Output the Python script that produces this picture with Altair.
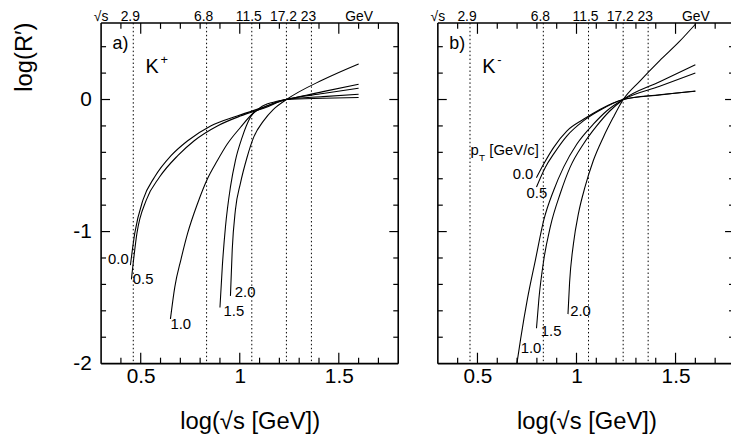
import math
import altair as alt
import pandas as pd

FONT = "Liberation Sans"

# ---------------- data ----------------
energies = [2.9, 6.8, 11.5, 17.2, 23]
energy_text = ["2.9", "6.8", "11.5", "17.2", "23"]
x_major = [0.5, 1.0, 1.5]
x_minor = [0.4, 0.6, 0.7, 0.8, 0.9, 1.1, 1.2, 1.3, 1.4, 1.6, 1.7]
y_major = [-1, 0]
y_minor = [-1.8, -1.6, -1.4, -1.2, -0.8, -0.6, -0.4, -0.2, 0.2, 0.4]
y_label_values = [-2, -1, 0]
pt_values = ["0.0", "0.5", "1.0", "1.5", "2.0"]

# K+ curves
kp_00_x = [0.448, 0.470, 0.511, 0.570, 0.653, 0.737, 0.853, 0.987, 1.120, 1.236, 1.420, 1.600]
kp_00_y = [-1.254, -1.012, -0.762, -0.587, -0.425, -0.312, -0.200, -0.125, -0.058, 0.000, 0.009, 0.015]
kp_05_x = [0.453, 0.481, 0.528, 0.595, 0.687, 0.770, 0.887, 1.003, 1.128, 1.236, 1.420, 1.600]
kp_05_y = [-1.362, -1.012, -0.762, -0.587, -0.425, -0.312, -0.200, -0.125, -0.062, 0.000, 0.022, 0.040]
kp_10_x = [0.650, 0.672, 0.703, 0.737, 0.787, 0.837, 0.887, 0.937, 1.003, 1.070, 1.137, 1.236, 1.420, 1.600]
kp_10_y = [-1.662, -1.420, -1.212, -1.012, -0.787, -0.600, -0.462, -0.337, -0.212, -0.100, -0.050, 0.000, 0.045, 0.085]
kp_15_x = [0.900, 0.912, 0.928, 0.953, 0.978, 1.012, 1.053, 1.103, 1.170, 1.236, 1.420, 1.600]
kp_15_y = [-1.575, -1.262, -0.962, -0.662, -0.462, -0.287, -0.137, -0.062, -0.020, 0.000, 0.060, 0.115]
kp_20_x = [0.953, 0.962, 0.978, 1.003, 1.037, 1.070, 1.120, 1.170, 1.236, 1.420, 1.600]
kp_20_y = [-1.487, -1.137, -0.837, -0.637, -0.437, -0.287, -0.162, -0.075, 0.000, 0.150, 0.270]

# K- curves
km_00_x = [0.798, 0.835, 0.885, 0.952, 1.035, 1.118, 1.236, 1.420, 1.600]
km_00_y = [-0.592, -0.487, -0.362, -0.237, -0.150, -0.075, 0.000, 0.036, 0.065]
km_05_x = [0.798, 0.843, 0.885, 0.952, 1.035, 1.118, 1.236, 1.420, 1.600]
km_05_y = [-0.662, -0.512, -0.412, -0.275, -0.162, -0.082, 0.000, 0.034, 0.062]
km_10_x = [0.699, 0.718, 0.752, 0.793, 0.835, 0.885, 0.935, 1.002, 1.085, 1.152, 1.236, 1.420, 1.600]
km_10_y = [-2.000, -1.812, -1.512, -1.212, -0.912, -0.687, -0.512, -0.337, -0.187, -0.087, 0.000, 0.100, 0.200]
km_15_x = [0.798, 0.810, 0.835, 0.868, 0.918, 0.968, 1.035, 1.102, 1.168, 1.236, 1.420, 1.600]
km_15_y = [-1.732, -1.512, -1.212, -0.962, -0.712, -0.512, -0.337, -0.200, -0.087, 0.000, 0.135, 0.263]
km_20_x = [0.957, 0.965, 0.985, 1.010, 1.043, 1.085, 1.135, 1.185, 1.236, 1.320, 1.420, 1.520, 1.600]
km_20_y = [-1.625, -1.387, -1.087, -0.862, -0.662, -0.462, -0.287, -0.137, 0.000, 0.140, 0.295, 0.440, 0.570]

# curve label anchors (data units)
kp_label_x = [0.387, 0.512, 0.702, 0.970, 1.027]
kp_label_y = [-1.205, -1.362, -1.700, -1.600, -1.458]
km_label_x = [0.730, 0.800, 0.770, 0.872, 1.020]
km_label_y = [-0.562, -0.710, -1.880, -1.750, -1.602]

# ---------------- helpers ----------------
H = 344
YS = alt.Scale(domain=[-2.0, 0.58], nice=False, zero=False)


def curves_df(xs_list, ys_list):
    rows = []
    for pt, xs, ys in zip(pt_values, xs_list, ys_list):
        for i, (x, y) in enumerate(zip(xs, ys)):
            rows.append({"pt": pt, "x": x, "y": y, "i": i})
    return pd.DataFrame(rows)


def make_panel(cdf, lab_x, lab_y, tag, ksup, first, W, xmax):
    XS = alt.Scale(domain=[0.3, xmax], nice=False, zero=False)
    x_axis = alt.Axis(values=x_major, format=".1~f", title="log(√s [GeV])", ticks=False, domain=False,
                      grid=False, labelPadding=2, labelFontSize=21, labelColor="black", labelFont=FONT,
                      labelFlush=False, titleFontSize=24, titleFont=FONT, titleFontWeight="normal",
                      titleColor="black", titleBaseline="alphabetic", titleY=66, titleX=150,
                      titleAlign="center")
    if first:
        y_axis = alt.Axis(values=y_label_values, title="log(R′)", ticks=False, domain=False, grid=False,
                          labelPadding=10, labelFontSize=21, labelColor="black", labelFont=FONT,
                          labelExpr="replace(datum.label, '−', '-')",
                          titleFontSize=24, titleFont=FONT, titleFontWeight="normal", titleColor="black",
                          titleAngle=270, titleX=-70, titleY=34, titleAlign="center",
                          titleBaseline="alphabetic")
    else:
        y_axis = None

    def X(f):
        return alt.X(f"{f}:Q", scale=XS, axis=x_axis)

    def Y(f):
        return alt.Y(f"{f}:Q", scale=YS, axis=y_axis)

    edf = pd.DataFrame({"e": [math.log10(e) for e in energies], "t": energy_text})
    xmaj = pd.DataFrame({"v": x_major})
    xmin = pd.DataFrame({"v": x_minor})
    ymaj = pd.DataFrame({"v": y_major})
    ymin = pd.DataFrame({"v": y_minor})

    layers = []
    layers.append(alt.Chart(edf).mark_rule(color="black", strokeWidth=1, strokeDash=[1.5, 2.5])
                  .encode(x=X("e")))
    layers.append(alt.Chart(cdf).mark_line(color="black", strokeWidth=1.1, interpolate="monotone", clip=True)
                  .encode(x=X("x"), y=Y("y"), detail="pt:N", order="i:Q"))
    # ticks (inward)
    for d, ln in [(xmaj, 11), (xmin, 6)]:
        layers.append(alt.Chart(d).mark_rule(color="black", strokeWidth=1.2)
                      .encode(x=X("v"), y=alt.value(H), y2=alt.value(H - ln)))
        layers.append(alt.Chart(d).mark_rule(color="black", strokeWidth=1.2)
                      .encode(x=X("v"), y=alt.value(0), y2=alt.value(ln)))
    for d, ln in [(ymaj, 9), (ymin, 5)]:
        layers.append(alt.Chart(d).mark_rule(color="black", strokeWidth=1.2)
                      .encode(y=Y("v"), x=alt.value(0), x2=alt.value(ln)))
        if first:
            layers.append(alt.Chart(d).mark_rule(color="black", strokeWidth=1.2)
                          .encode(y=Y("v"), x=alt.value(W - ln), x2=alt.value(W)))
        else:
            layers.append(alt.Chart(d).mark_rule(color="black", strokeWidth=1.2)
                          .encode(y=Y("v"), x=alt.value(W - ln + 3), x2=alt.value(W)))
    # frame
    frame = [
        dict(x=alt.value(0), x2=alt.value(W), y=alt.value(0)),
        dict(x=alt.value(0), x2=alt.value(W), y=alt.value(H)),
        dict(x=alt.value(0), y=alt.value(0), y2=alt.value(H)),
    ]
    if first:
        frame.append(dict(x=alt.value(W), y=alt.value(0), y2=alt.value(H)))
    for enc in frame:
        layers.append(alt.Chart(pd.DataFrame({"a": [0]})).mark_rule(color="black", strokeWidth=1.6)
                      .encode(**enc))
    # top energy labels
    layers.append(alt.Chart(edf).mark_text(font=FONT, fontSize=14, baseline="alphabetic", align="center",
                                           dx=-3, color="black")
                  .encode(x=X("e"), y=alt.value(-2), text="t:N"))
    ends = pd.DataFrame({"p": [0.3, math.log10(40)], "t": ["√s", "GeV"]})
    layers.append(alt.Chart(ends).mark_text(font=FONT, fontSize=14, baseline="alphabetic", align="center",
                                            color="black")
                  .encode(x=X("p"), y=alt.value(-2), text="t:N"))
    # curve labels
    ldf = pd.DataFrame({"x": lab_x, "y": lab_y, "t": pt_values})
    layers.append(alt.Chart(ldf).mark_text(font=FONT, fontSize=15, baseline="middle", align="center",
                                           color="black")
                  .encode(x=X("x"), y=Y("y"), text="t:N"))
    # panel tag and particle name
    tdf = pd.DataFrame({"x": [0.358], "y": [0.386], "t": [tag]})
    layers.append(alt.Chart(tdf).mark_text(font=FONT, fontSize=18, baseline="alphabetic", align="left",
                                           color="black")
                  .encode(x=X("x"), y=Y("y"), text="t:N"))
    kdf = pd.DataFrame({"x": [0.524], "y": [0.198], "t": ["K"]})
    layers.append(alt.Chart(kdf).mark_text(font=FONT, fontSize=20, baseline="alphabetic", align="left",
                                           color="black")
                  .encode(x=X("x"), y=Y("y"), text="t:N"))
    sdf = pd.DataFrame({"x": [0.60], "y": [0.27], "t": [ksup]})
    layers.append(alt.Chart(sdf).mark_text(font=FONT, fontSize=13, baseline="alphabetic", align="left",
                                           color="black")
                  .encode(x=X("x"), y=Y("y"), text="t:N"))
    if not first:
        pdf = pd.DataFrame({"x": [0.465], "y": [-0.417], "t": ["p"]})
        layers.append(alt.Chart(pdf).mark_text(font=FONT, fontSize=15, baseline="alphabetic", align="left",
                                               color="black")
                      .encode(x=X("x"), y=Y("y"), text="t:N"))
        sub = pd.DataFrame({"x": [0.508], "y": [-0.465], "t": ["T"]})
        layers.append(alt.Chart(sub).mark_text(font=FONT, fontSize=10, baseline="alphabetic", align="left",
                                               color="black")
                      .encode(x=X("x"), y=Y("y"), text="t:N"))
        unit = pd.DataFrame({"x": [0.56], "y": [-0.417], "t": ["[GeV/c]"]})
        layers.append(alt.Chart(unit).mark_text(font=FONT, fontSize=15, baseline="alphabetic", align="left",
                                                color="black")
                      .encode(x=X("x"), y=Y("y"), text="t:N"))
    return alt.layer(*layers).properties(width=W, height=H)


kp_df = curves_df([kp_00_x, kp_05_x, kp_10_x, kp_15_x, kp_20_x],
                  [kp_00_y, kp_05_y, kp_10_y, kp_15_y, kp_20_y])
km_df = curves_df([km_00_x, km_05_x, km_10_x, km_15_x, km_20_x],
                  [km_00_y, km_05_y, km_10_y, km_15_y, km_20_y])

left = make_panel(kp_df, kp_label_x, kp_label_y, "a)", "+", True, 300, 1.8)
right = make_panel(km_df, km_label_x, km_label_y, "b)", "-", False, 296, 1.78)

chart = alt.hconcat(left, right, spacing=40, bounds="flush").properties(
    padding={"left": 5, "top": 0, "right": 0, "bottom": 0}
).configure(font=FONT).configure_view(stroke=None)

chart.save("out.html", embed_options={"renderer": "svg", "actions": False})
